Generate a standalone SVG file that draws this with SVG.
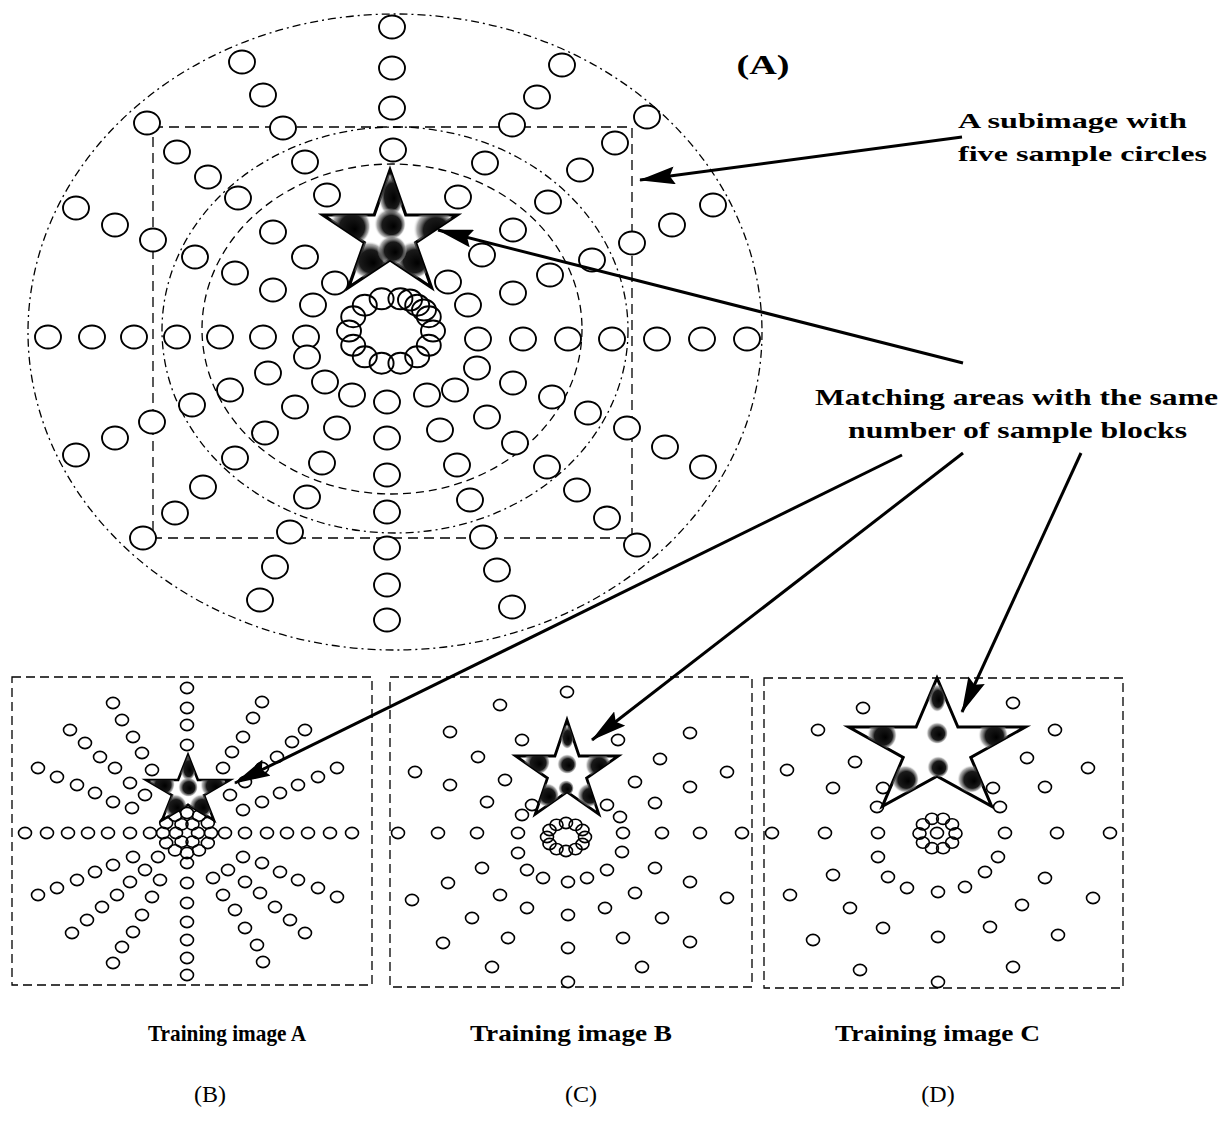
<svg xmlns="http://www.w3.org/2000/svg" width="1230" height="1135" viewBox="0 0 1230 1135">
<style>
.dash{fill:none;stroke:#000;stroke-width:1.3}
.star{fill:#fff;stroke:#000;stroke-linejoin:miter}
.lbl{font-family:"Liberation Serif",serif;font-weight:bold;fill:#000}
.cap{font-family:"Liberation Serif",serif;fill:#000}
.conn line{stroke:#000;stroke-width:3;marker-end:url(#ah)}
</style>
<defs>
<ellipse id="a" rx="13" ry="11.5"/>
<ellipse id="r" rx="12" ry="10.5"/>
<ellipse id="b" rx="6.5" ry="5.6"/>
<radialGradient id="sh" cx="0.5" cy="0.5" r="0.5" fx="0.62" fy="0.58">
<stop offset="0" stop-color="#000"/>
<stop offset="0.6" stop-color="#1a1a1a"/>
<stop offset="0.85" stop-color="#777" stop-opacity="0.6"/>
<stop offset="1" stop-color="#fff" stop-opacity="0"/>
</radialGradient>
<path id="sA" d="M390,170 L405.8,215 L457,215 L415.6,242.7 L431.5,287.6 L390,259.8 L348.5,287.6 L364.4,242.7 L323,215 L374.2,215 Z"/>
<path id="sB" d="M188,755 L197.9,780 L229.8,780 L204,795.2 L213.9,820.1 L188,804.8 L162.1,820.1 L172,795.2 L146.2,780 L178.1,780 Z"/>
<path id="sC" d="M567,720 L579.1,756 L618.4,756 L586.6,778.1 L598.8,814.1 L567,791.9 L535.2,814.1 L547.4,778.1 L515.6,756 L554.9,756 Z"/>
<path id="sD" d="M937,678 L957.9,727 L1025.4,727 L970.8,757.4 L991.7,806.4 L937,776.1 L882.3,806.4 L903.2,757.4 L848.6,727 L916.1,727 Z"/>
<clipPath id="kA"><use href="#sA"/></clipPath>
<clipPath id="kB"><use href="#sB"/></clipPath>
<clipPath id="kC"><use href="#sC"/></clipPath>
<clipPath id="kD"><use href="#sD"/></clipPath>
<marker id="ah" markerUnits="userSpaceOnUse" viewBox="0 0 36 18" markerWidth="36" markerHeight="18" refX="35" refY="9" orient="auto">
<path d="M0,0 L36,9 L0,18 L5,9 Z" fill="#000"/>
</marker>
</defs>
<rect width="1230" height="1135" fill="#fff"/>

<g id="panelA">
<ellipse class="dash" cx="395" cy="332" rx="367" ry="318" stroke-dasharray="8 4 2 4"/>
<ellipse class="dash" cx="395" cy="330" rx="233" ry="203" stroke-dasharray="8 4 2 4"/>
<ellipse class="dash" cx="392" cy="329" rx="190" ry="165" stroke-dasharray="8 5"/>
<rect class="dash" x="153" y="127" width="479" height="411" stroke-width="1.6" stroke-dasharray="10 6"/>
<g fill="#fff" stroke="#000" stroke-width="1.9">
<use href="#a" x="392" y="27"/><use href="#a" x="392" y="68"/><use href="#a" x="392" y="108"/><use href="#a" x="393" y="150"/>
<use href="#a" x="387" y="402"/><use href="#a" x="387" y="438"/><use href="#a" x="387" y="475"/><use href="#a" x="387" y="512"/><use href="#a" x="387" y="548"/><use href="#a" x="387" y="585"/><use href="#a" x="387" y="620"/>
<use href="#a" x="48" y="337"/><use href="#a" x="92" y="337"/><use href="#a" x="134" y="337"/><use href="#a" x="177" y="337"/><use href="#a" x="220" y="337"/><use href="#a" x="263" y="337"/><use href="#a" x="306" y="337"/>
<use href="#a" x="478" y="339"/><use href="#a" x="523" y="339"/><use href="#a" x="568" y="339"/><use href="#a" x="612" y="339"/><use href="#a" x="657" y="339"/><use href="#a" x="702" y="339"/><use href="#a" x="747" y="339"/>
<use href="#a" x="242" y="62"/><use href="#a" x="263" y="95"/><use href="#a" x="283" y="128"/><use href="#a" x="305" y="162"/><use href="#a" x="327" y="195"/>
<use href="#a" x="147" y="123"/><use href="#a" x="177" y="152"/><use href="#a" x="208" y="177"/><use href="#a" x="238" y="198"/><use href="#a" x="273" y="232"/><use href="#a" x="305" y="257"/><use href="#a" x="335" y="283"/>
<use href="#a" x="76" y="208"/><use href="#a" x="115" y="225"/><use href="#a" x="153" y="240"/><use href="#a" x="195" y="257"/><use href="#a" x="235" y="273"/><use href="#a" x="273" y="290"/><use href="#a" x="313" y="305"/>
<use href="#a" x="562" y="65"/><use href="#a" x="537" y="97"/><use href="#a" x="512" y="125"/><use href="#a" x="485" y="163"/><use href="#a" x="458" y="197"/>
<use href="#a" x="647" y="117"/><use href="#a" x="615" y="143"/><use href="#a" x="580" y="170"/><use href="#a" x="548" y="202"/><use href="#a" x="513" y="230"/><use href="#a" x="482" y="255"/><use href="#a" x="448" y="282"/>
<use href="#a" x="713" y="205"/><use href="#a" x="672" y="225"/><use href="#a" x="632" y="243"/><use href="#a" x="592" y="260"/><use href="#a" x="550" y="275"/><use href="#a" x="513" y="293"/><use href="#a" x="468" y="305"/>
<use href="#a" x="76" y="455"/><use href="#a" x="115" y="438"/><use href="#a" x="152" y="422"/><use href="#a" x="192" y="405"/><use href="#a" x="230" y="390"/><use href="#a" x="268" y="373"/><use href="#a" x="307" y="357"/>
<use href="#a" x="143" y="538"/><use href="#a" x="175" y="513"/><use href="#a" x="203" y="487"/><use href="#a" x="235" y="458"/><use href="#a" x="265" y="433"/><use href="#a" x="295" y="407"/><use href="#a" x="325" y="382"/>
<use href="#a" x="260" y="600"/><use href="#a" x="275" y="567"/><use href="#a" x="290" y="532"/><use href="#a" x="307" y="497"/><use href="#a" x="322" y="463"/><use href="#a" x="337" y="428"/><use href="#a" x="352" y="395"/>
<use href="#a" x="477" y="368"/><use href="#a" x="513" y="383"/><use href="#a" x="552" y="397"/><use href="#a" x="588" y="413"/><use href="#a" x="627" y="428"/><use href="#a" x="665" y="447"/><use href="#a" x="703" y="467"/>
<use href="#a" x="455" y="390"/><use href="#a" x="487" y="417"/><use href="#a" x="515" y="443"/><use href="#a" x="547" y="467"/><use href="#a" x="577" y="490"/><use href="#a" x="607" y="518"/><use href="#a" x="637" y="545"/>
<use href="#a" x="427" y="395"/><use href="#a" x="440" y="430"/><use href="#a" x="457" y="465"/><use href="#a" x="470" y="500"/><use href="#a" x="483" y="537"/><use href="#a" x="497" y="570"/><use href="#a" x="512" y="607"/>
</g>
<g fill="none" stroke="#000" stroke-width="1.9">
<use href="#r" x="433" y="331"/><use href="#r" x="428.8" y="345.3"/><use href="#r" x="417.2" y="356.8"/><use href="#r" x="400.4" y="363.2"/><use href="#r" x="381.6" y="363.2"/><use href="#r" x="364.8" y="356.8"/><use href="#r" x="353.2" y="345.3"/><use href="#r" x="349" y="331"/><use href="#r" x="353.2" y="316.7"/><use href="#r" x="364.8" y="305.2"/><use href="#r" x="381.6" y="298.8"/><use href="#r" x="400.4" y="298.8"/><use href="#r" x="417.2" y="305.2"/><use href="#r" x="428.8" y="316.7"/><use href="#r" x="410" y="300"/><use href="#r" x="424" y="310"/>
</g>
<use href="#sA" class="star" stroke-width="3.2"/>
<g clip-path="url(#kA)" fill="url(#sh)">
<ellipse cx="391" cy="195" rx="13" ry="22"/>
<circle cx="390" cy="224" r="16"/>
<circle cx="350" cy="226" r="21"/>
<circle cx="434" cy="229" r="21"/>
<circle cx="369" cy="260" r="19"/>
<circle cx="413" cy="260" r="19"/>
<circle cx="392" cy="250" r="15"/>
</g>
<text class="lbl" x="763" y="74" font-size="27" text-anchor="middle" textLength="53" lengthAdjust="spacingAndGlyphs">(A)</text>
</g>

<g id="panelB">
<rect class="dash" x="12" y="677" width="360" height="308" stroke-width="1.6" stroke-dasharray="9 5"/>
<g fill="#fff" stroke="#000" stroke-width="1.6">
<use href="#b" x="187" y="688"/><use href="#b" x="187" y="708"/><use href="#b" x="187" y="725"/><use href="#b" x="187" y="745"/>
<use href="#b" x="187" y="863"/><use href="#b" x="187" y="883"/><use href="#b" x="187" y="903"/><use href="#b" x="187" y="922"/><use href="#b" x="187" y="940"/><use href="#b" x="187" y="958"/><use href="#b" x="187" y="975"/>
<use href="#b" x="25" y="833"/><use href="#b" x="47" y="833"/><use href="#b" x="68" y="833"/><use href="#b" x="88" y="833"/><use href="#b" x="108" y="833"/><use href="#b" x="130" y="833"/><use href="#b" x="150" y="833"/>
<use href="#b" x="225" y="833"/><use href="#b" x="245" y="833"/><use href="#b" x="267" y="833"/><use href="#b" x="287" y="833"/><use href="#b" x="308" y="833"/><use href="#b" x="330" y="833"/><use href="#b" x="352" y="833"/>
<use href="#b" x="113" y="703"/><use href="#b" x="122" y="720"/><use href="#b" x="133" y="737"/><use href="#b" x="142" y="753"/><use href="#b" x="152" y="770"/>
<use href="#b" x="70" y="730"/><use href="#b" x="85" y="743"/><use href="#b" x="100" y="757"/><use href="#b" x="115" y="768"/><use href="#b" x="130" y="783"/><use href="#b" x="145" y="795"/>
<use href="#b" x="38" y="768"/><use href="#b" x="57" y="777"/><use href="#b" x="77" y="785"/><use href="#b" x="95" y="793"/><use href="#b" x="113" y="802"/><use href="#b" x="132" y="808"/>
<use href="#b" x="262" y="702"/><use href="#b" x="253" y="718"/><use href="#b" x="243" y="737"/><use href="#b" x="232" y="752"/><use href="#b" x="223" y="768"/>
<use href="#b" x="305" y="730"/><use href="#b" x="292" y="742"/><use href="#b" x="277" y="757"/><use href="#b" x="262" y="768"/><use href="#b" x="245" y="782"/><use href="#b" x="230" y="795"/>
<use href="#b" x="337" y="768"/><use href="#b" x="318" y="777"/><use href="#b" x="298" y="785"/><use href="#b" x="280" y="793"/><use href="#b" x="262" y="802"/><use href="#b" x="243" y="810"/>
<use href="#b" x="38" y="895"/><use href="#b" x="57" y="888"/><use href="#b" x="77" y="880"/><use href="#b" x="95" y="872"/><use href="#b" x="113" y="865"/><use href="#b" x="133" y="857"/>
<use href="#b" x="72" y="933"/><use href="#b" x="87" y="920"/><use href="#b" x="102" y="907"/><use href="#b" x="117" y="895"/><use href="#b" x="130" y="882"/><use href="#b" x="145" y="870"/><use href="#b" x="158" y="857"/>
<use href="#b" x="113" y="963"/><use href="#b" x="122" y="947"/><use href="#b" x="133" y="932"/><use href="#b" x="142" y="915"/><use href="#b" x="152" y="897"/><use href="#b" x="160" y="880"/>
<use href="#b" x="337" y="897"/><use href="#b" x="318" y="888"/><use href="#b" x="298" y="880"/><use href="#b" x="280" y="872"/><use href="#b" x="262" y="863"/><use href="#b" x="243" y="857"/>
<use href="#b" x="305" y="933"/><use href="#b" x="290" y="920"/><use href="#b" x="275" y="907"/><use href="#b" x="260" y="893"/><use href="#b" x="245" y="882"/><use href="#b" x="228" y="870"/>
<use href="#b" x="263" y="962"/><use href="#b" x="257" y="945"/><use href="#b" x="245" y="928"/><use href="#b" x="235" y="910"/><use href="#b" x="223" y="895"/><use href="#b" x="213" y="878"/>
</g>
<g fill="none" stroke="#000" stroke-width="1.6">
<use href="#b" x="211" y="833"/><use href="#b" x="207.8" y="843"/><use href="#b" x="199" y="850.3"/><use href="#b" x="187" y="853"/><use href="#b" x="175" y="850.3"/><use href="#b" x="166.2" y="843"/><use href="#b" x="163" y="833"/><use href="#b" x="166.2" y="823"/><use href="#b" x="175" y="815.7"/><use href="#b" x="187" y="813"/><use href="#b" x="199" y="815.7"/><use href="#b" x="207.8" y="823"/>
<use href="#b" x="198" y="833"/><use href="#b" x="192.5" y="841.7"/><use href="#b" x="181.5" y="841.7"/><use href="#b" x="176" y="833"/><use href="#b" x="181.5" y="824.3"/><use href="#b" x="192.5" y="824.3"/>
</g>
<use href="#sB" class="star" stroke-width="2.6"/>
<g clip-path="url(#kB)" fill="url(#sh)">
<ellipse cx="188" cy="768" rx="8" ry="13"/>
<circle cx="188" cy="787" r="10"/>
<circle cx="162" cy="784" r="13"/>
<circle cx="213" cy="785" r="13"/>
<circle cx="175" cy="806" r="12"/>
<circle cx="201" cy="806" r="12"/>
</g>
</g>

<g id="panelC">
<rect class="dash" x="390" y="677" width="362" height="310" stroke-width="1.6" stroke-dasharray="9 5"/>
<g fill="#fff" stroke="#000" stroke-width="1.6">
<use href="#b" x="567" y="692"/><use href="#b" x="500" y="705"/><use href="#b" x="450" y="732"/><use href="#b" x="522" y="740"/><use href="#b" x="618" y="740"/><use href="#b" x="690" y="733"/>
<use href="#b" x="478" y="757"/><use href="#b" x="660" y="759"/><use href="#b" x="415" y="772"/><use href="#b" x="505" y="780"/><use href="#b" x="635" y="782"/><use href="#b" x="727" y="772"/>
<use href="#b" x="450" y="785"/><use href="#b" x="690" y="787"/><use href="#b" x="487" y="802"/><use href="#b" x="532" y="805"/><use href="#b" x="607" y="805"/><use href="#b" x="655" y="803"/>
<use href="#b" x="522" y="815"/><use href="#b" x="620" y="817"/>
<use href="#b" x="398" y="833"/><use href="#b" x="438" y="833"/><use href="#b" x="477" y="833"/><use href="#b" x="518" y="833"/><use href="#b" x="623" y="833"/><use href="#b" x="662" y="833"/><use href="#b" x="700" y="833"/><use href="#b" x="742" y="833"/>
<use href="#b" x="518" y="853"/><use href="#b" x="622" y="852"/><use href="#b" x="482" y="868"/><use href="#b" x="527" y="870"/><use href="#b" x="543" y="878"/><use href="#b" x="568" y="882"/><use href="#b" x="587" y="878"/><use href="#b" x="607" y="870"/><use href="#b" x="655" y="868"/>
<use href="#b" x="448" y="883"/><use href="#b" x="690" y="882"/><use href="#b" x="412" y="900"/><use href="#b" x="500" y="895"/><use href="#b" x="635" y="893"/><use href="#b" x="727" y="898"/>
<use href="#b" x="527" y="908"/><use href="#b" x="568" y="915"/><use href="#b" x="605" y="908"/><use href="#b" x="472" y="918"/><use href="#b" x="662" y="918"/>
<use href="#b" x="508" y="938"/><use href="#b" x="623" y="938"/><use href="#b" x="443" y="943"/><use href="#b" x="690" y="942"/><use href="#b" x="568" y="948"/>
<use href="#b" x="492" y="967"/><use href="#b" x="642" y="967"/><use href="#b" x="568" y="982"/>
</g>
<g fill="none" stroke="#000" stroke-width="1.6">
<use href="#b" x="585" y="837"/><use href="#b" x="582.5" y="844"/><use href="#b" x="575.5" y="849.1"/><use href="#b" x="566" y="851"/><use href="#b" x="556.5" y="849.1"/><use href="#b" x="549.5" y="844"/><use href="#b" x="547" y="837"/><use href="#b" x="549.5" y="830"/><use href="#b" x="556.5" y="824.9"/><use href="#b" x="566" y="823"/><use href="#b" x="575.5" y="824.9"/><use href="#b" x="582.5" y="830"/>
</g>
<use href="#sC" class="star" stroke-width="2.8"/>
<g clip-path="url(#kC)" fill="url(#sh)">
<ellipse cx="567" cy="737" rx="7" ry="12"/>
<circle cx="567" cy="764" r="10"/>
<circle cx="537" cy="762" r="13"/>
<circle cx="598" cy="765" r="13"/>
<circle cx="547" cy="795" r="12"/>
<circle cx="589" cy="795" r="12"/>
<circle cx="566" cy="788" r="8"/>
</g>
</g>

<g id="panelD">
<rect class="dash" x="764" y="678" width="359" height="310" stroke-width="1.6" stroke-dasharray="9 5"/>
<g fill="#fff" stroke="#000" stroke-width="1.6">
<use href="#b" x="863" y="708"/><use href="#b" x="1013" y="703"/><use href="#b" x="818" y="730"/><use href="#b" x="1055" y="730"/><use href="#b" x="855" y="762"/><use href="#b" x="1027" y="758"/>
<use href="#b" x="787" y="770"/><use href="#b" x="1088" y="768"/><use href="#b" x="833" y="788"/><use href="#b" x="883" y="788"/><use href="#b" x="993" y="788"/><use href="#b" x="1045" y="787"/>
<use href="#b" x="877" y="807"/><use href="#b" x="1000" y="807"/>
<use href="#b" x="772" y="833"/><use href="#b" x="825" y="833"/><use href="#b" x="878" y="833"/><use href="#b" x="1005" y="833"/><use href="#b" x="1057" y="833"/><use href="#b" x="1110" y="833"/>
<use href="#b" x="878" y="857"/><use href="#b" x="998" y="857"/><use href="#b" x="833" y="875"/><use href="#b" x="888" y="877"/><use href="#b" x="907" y="888"/><use href="#b" x="938" y="892"/><use href="#b" x="965" y="887"/><use href="#b" x="985" y="872"/><use href="#b" x="1045" y="878"/>
<use href="#b" x="790" y="895"/><use href="#b" x="850" y="908"/><use href="#b" x="1022" y="905"/><use href="#b" x="1093" y="898"/>
<use href="#b" x="883" y="928"/><use href="#b" x="938" y="937"/><use href="#b" x="990" y="927"/><use href="#b" x="813" y="940"/><use href="#b" x="1058" y="935"/>
<use href="#b" x="860" y="970"/><use href="#b" x="1013" y="967"/><use href="#b" x="938" y="982"/>
</g>
<g fill="none" stroke="#000" stroke-width="1.6">
<use href="#b" x="955.5" y="833.5"/><use href="#b" x="952.1" y="842.6"/><use href="#b" x="943.1" y="848.2"/><use href="#b" x="931.9" y="848.2"/><use href="#b" x="922.9" y="842.6"/><use href="#b" x="919.5" y="833.5"/><use href="#b" x="922.9" y="824.4"/><use href="#b" x="931.9" y="818.8"/><use href="#b" x="943.1" y="818.8"/><use href="#b" x="952.1" y="824.4"/>
<use href="#b" x="937" y="833"/>
</g>
<use href="#sD" class="star" stroke-width="3"/>
<g clip-path="url(#kD)" fill="url(#sh)">
<ellipse cx="937" cy="698" rx="9" ry="14"/>
<circle cx="937" cy="733" r="11"/>
<circle cx="882" cy="735" r="15"/>
<circle cx="993" cy="735" r="15"/>
<circle cx="905" cy="779" r="14"/>
<circle cx="938" cy="767" r="11"/>
<circle cx="971" cy="779" r="14"/>
</g>
</g>

<g id="connectors" class="conn">
<line x1="962" y1="137" x2="640" y2="180"/>
<line x1="963" y1="363" x2="438" y2="230"/>
<line x1="902" y1="455" x2="235" y2="783"/>
<line x1="963" y1="453" x2="592" y2="740"/>
<line x1="1081" y1="453" x2="962" y2="712"/>
</g>

<g id="labels">
<text class="lbl" x="958" y="128" font-size="22" textLength="229" lengthAdjust="spacingAndGlyphs">A subimage with</text>
<text class="lbl" x="958" y="161" font-size="22" textLength="249" lengthAdjust="spacingAndGlyphs">five sample circles</text>
<text class="lbl" x="815" y="405" font-size="23" textLength="403" lengthAdjust="spacingAndGlyphs">Matching areas with the same</text>
<text class="lbl" x="848" y="438" font-size="23" textLength="339" lengthAdjust="spacingAndGlyphs">number of sample blocks</text>
<text class="lbl" x="148" y="1041" font-size="23" textLength="158" lengthAdjust="spacingAndGlyphs">Training image A</text>
<text class="lbl" x="470" y="1041" font-size="23" textLength="202" lengthAdjust="spacingAndGlyphs">Training image B</text>
<text class="lbl" x="835" y="1041" font-size="23" textLength="205" lengthAdjust="spacingAndGlyphs">Training image C</text>
<text class="cap" x="210" y="1102" font-size="24" text-anchor="middle">(B)</text>
<text class="cap" x="581" y="1102" font-size="24" text-anchor="middle">(C)</text>
<text class="cap" x="938" y="1102" font-size="24" text-anchor="middle">(D)</text>
</g>
</svg>
